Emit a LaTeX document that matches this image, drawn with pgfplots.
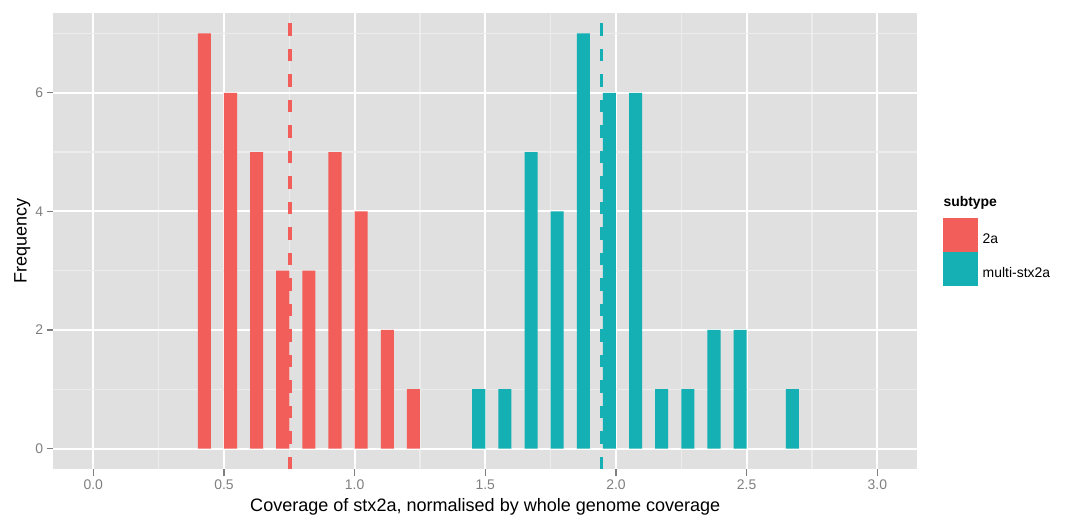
\documentclass[border=0pt]{standalone}
\usepackage{pgfplots}
\pgfplotsset{compat=1.18}
\usepackage{fontspec}
\setmainfont{Liberation Sans}
\definecolor{c2a}{RGB}{242,94,89}
\definecolor{cmulti}{RGB}{20,176,180}
\definecolor{panelbg}{RGB}{224,224,224}
\definecolor{minorgrid}{RGB}{236,236,236}
\definecolor{ticktext}{RGB}{127,127,127}
\begin{document}
\begin{tikzpicture}
\useasboundingbox (0,0) rectangle (1067bp,516bp);
\begin{axis}[
  at={(53.3bp,46.7bp)}, anchor=south west,
  scale only axis, width=864bp, height=456.6bp,
  xmin=-0.153, xmax=3.153, ymin=-0.35, ymax=7.35,
  axis background/.style={fill=panelbg},
  axis line style={draw=none},
  xtick={0,0.5,1,1.5,2,2.5,3}, ytick={0,2,4,6},
  minor xtick={0.25,0.75,1.25,1.75,2.25,2.75}, minor ytick={1,3,5,7},
  grid=both,
  major grid style={white, line width=2bp},
  minor grid style={minorgrid, line width=1.2bp},
  tick pos=left, tick align=outside,
  major tick length=6.6bp, minor tick length=0pt,
  tick style={ticktext, line width=1.2bp},
  ticklabel style={font=\fontsize{14}{14}\selectfont, text=ticktext},
  /pgf/number format/assume math mode=true,
  xticklabel style={/pgf/number format/.cd, fixed, fixed zerofill, precision=1},
  legend style={at={(1.03009,0.55103)}, anchor=north west, draw=none, fill=none,
    inner sep=0pt, outer sep=0pt, row sep=0pt,
    font=\fontsize{14}{14}\selectfont,
    nodes={inner ysep=0pt, inner xsep=4.4bp, text=black}},
  legend cell align=left,
]
\addplot[ybar, bar width=0.05, bar shift=0pt, fill=c2a, draw=none,
  legend image code/.code={\fill[c2a] (0bp,-12.5bp) rectangle (35bp,21.5bp);}]
  coordinates {(0.425,7) (0.525,6) (0.625,5) (0.725,3) (0.825,3) (0.925,5) (1.025,4) (1.125,2) (1.225,1)};
\addlegendentry{2a}
\addplot[ybar, bar width=0.05, bar shift=0pt, fill=cmulti, draw=none,
  legend image code/.code={\fill[cmulti] (0bp,-12.5bp) rectangle (35bp,21.5bp);}]
  coordinates {(1.475,1) (1.575,1) (1.675,5) (1.775,4) (1.875,7) (1.975,6) (2.075,6) (2.175,1) (2.275,1) (2.375,2) (2.475,2) (2.675,1)};
\addlegendentry{multi-stx2a}
\addplot[c2a, line width=3.5bp, dash pattern=on 12.3bp off 13.2bp, forget plot]
  coordinates {(0.753,-0.35) (0.753,7.35)};
\addplot[cmulti, line width=3.5bp, dash pattern=on 12.3bp off 13.2bp, forget plot]
  coordinates {(1.944,-0.35) (1.944,7.35)};
\end{axis}
\node[anchor=base, font=\fontsize{18.1}{18.1}\selectfont] at (485.3bp,4.3bp) {Coverage of stx2a, normalised by whole genome coverage};
\node[anchor=base, rotate=90, font=\fontsize{18.1}{18.1}\selectfont] at (26.7bp,275bp) {Frequency};
\node[anchor=base west, inner sep=0pt, font=\bfseries\fontsize{14}{14}\selectfont] at (943.3bp,309.3bp) {subtype};
\end{tikzpicture}
\end{document}
